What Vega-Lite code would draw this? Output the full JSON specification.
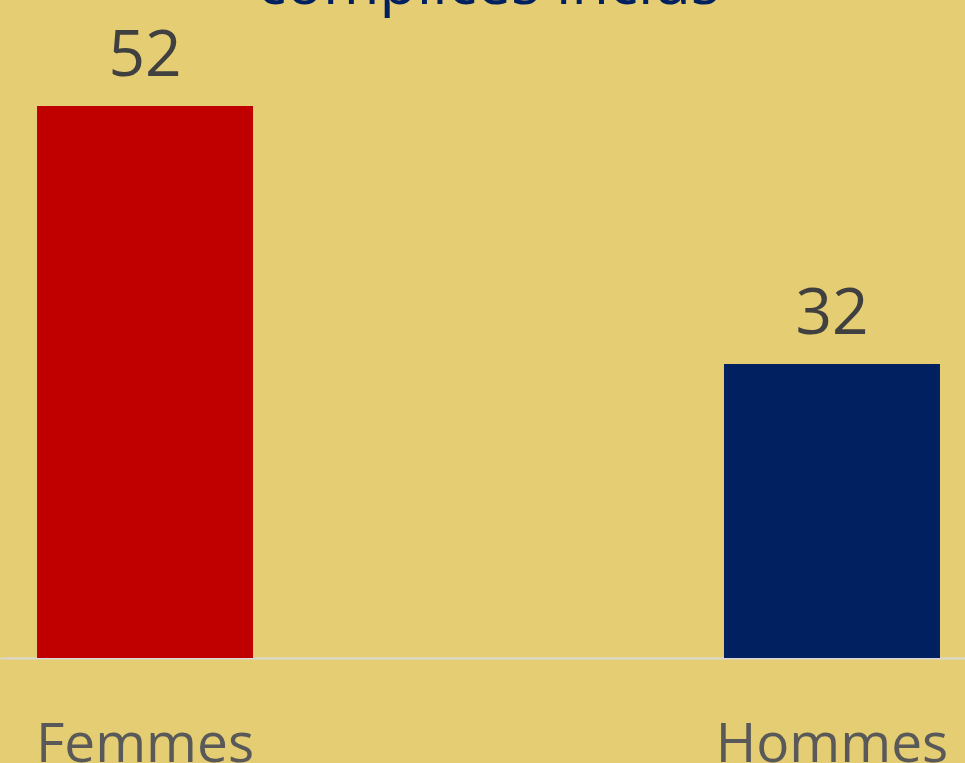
{
  "$schema": "https://vega.github.io/schema/vega-lite/v6.json",
  "autosize": {"type": "none"},
  "padding": {"left": 0, "top": 0, "right": 0, "bottom": 105},
  "width": 977,
  "height": 658,
  "background": "#E4CD73",
  "title": {
    "text": "complices inclus",
    "orient": "top",
    "anchor": "middle",
    "offset": -65,
    "baseline": "alphabetic",
    "font": "Open Sans",
    "fontSize": 61,
    "fontWeight": "normal",
    "color": "#002060"
  },
  "config": {
    "view": {"stroke": null},
    "font": "Open Sans"
  },
  "data": {
    "values": [
      {"sexe": "Femmes", "valeur": 52},
      {"sexe": "Hommes", "valeur": 32}
    ]
  },
  "encoding": {
    "x": {
      "field": "sexe",
      "type": "nominal",
      "sort": null,
      "scale": {"paddingInner": 0.6856, "paddingOuter": 0.0539},
      "axis": {
        "title": null,
        "labelAngle": 0,
        "ticks": false,
        "tickSize": 0,
        "domainColor": "#D9D9D9",
        "domainWidth": 2,
        "labelFont": "Open Sans",
        "labelFontSize": 55,
        "labelColor": "#595959",
        "labelBaseline": "alphabetic",
        "labelPadding": 103,
        "labelLimit": 0,
        "labelOverlap": false
      }
    },
    "y": {
      "field": "valeur",
      "type": "quantitative",
      "scale": {"domain": [9.209, 60.217], "zero": false, "nice": false},
      "axis": null
    }
  },
  "layer": [
    {
      "mark": {"type": "bar", "clip": true},
      "encoding": {
        "color": {
          "field": "sexe",
          "type": "nominal",
          "scale": {"domain": ["Femmes", "Hommes"], "range": ["#C00000", "#002060"]},
          "legend": null
        }
      }
    },
    {
      "mark": {"type": "text", "baseline": "alphabetic", "dy": -30, "font": "Open Sans", "fontSize": 64, "color": "#404040"},
      "encoding": {"text": {"field": "valeur", "type": "quantitative"}}
    }
  ]
}
